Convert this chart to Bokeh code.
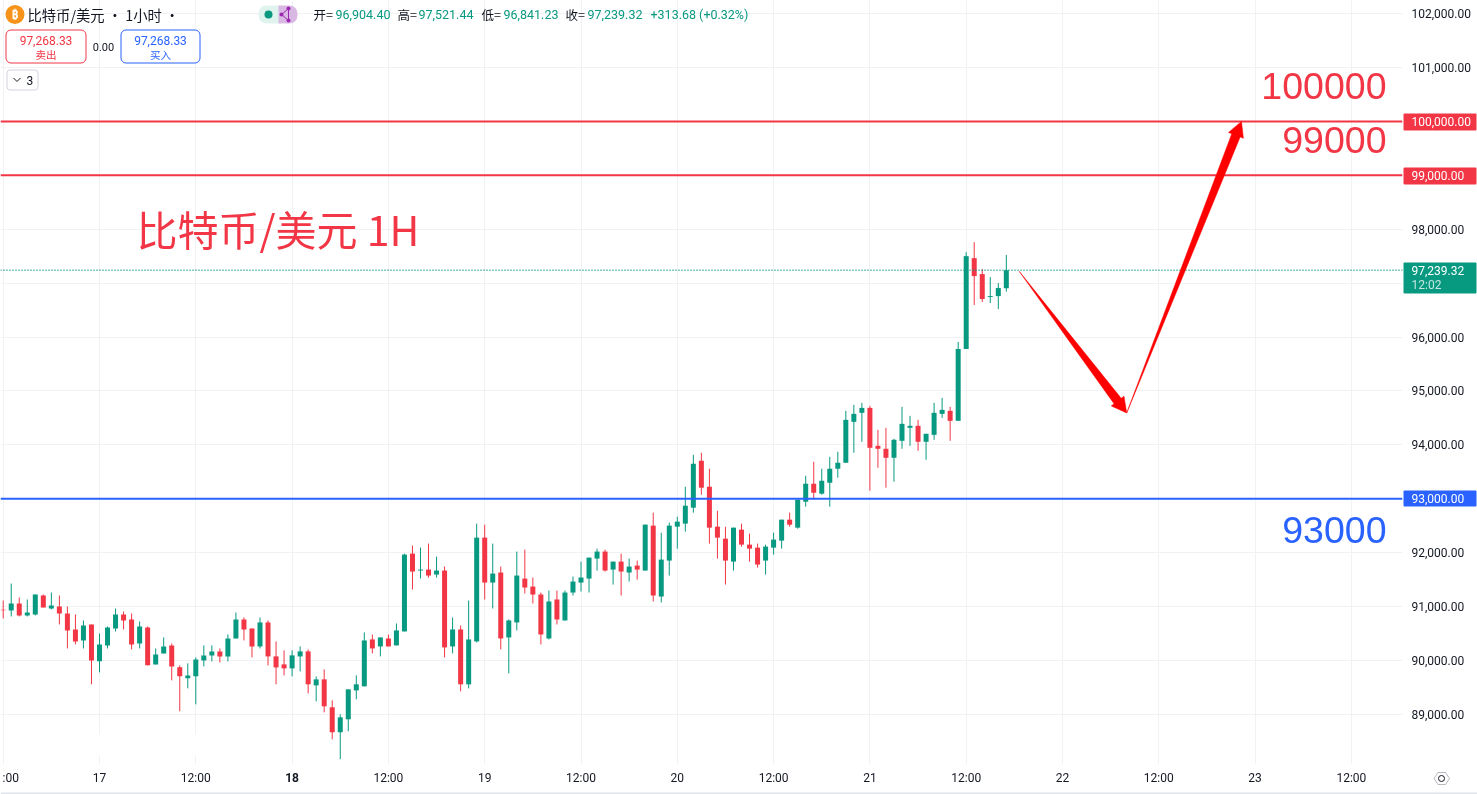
from bokeh.plotting import figure
from bokeh.models import Range1d, FixedTicker, Label, BoxAnnotation, PolyAnnotation, Span, ColumnDataSource
from bokeh.embed import file_html
from bokeh.resources import INLINE
import math

opens = [90939,90926,91056,90834,90852,91204,90963,91000,90871,90574,90371,90667,89982,90278,90593,90852,90760,90315,90611,89926,
         90130,90278,89871,89667,89704,90000,90093,90167,90074,90408,90760,90593,90259,90704,90074,89926,89852,90074,90167,89537,
         89648,89130,88667,88907,89444,89519,90389,90259,90407,90278,90537,91981,91667,91685,91593,91667,90259,90574,89556,90352,
         92278,91444,91630,90426,90704,91518,91370,91222,90407,91130,90741,91259,91444,91518,91889,92019,91685,91833,91630,91759,
         91667,92500,91185,91852,92481,92537,92833,93704,93222,92481,92259,91833,92426,92148,92092,91852,92092,92222,92611,92463,
         92944,93278,93093,93296,93556,93667,94426,94593,94685,93981,93926,93759,94074,94315,94352,94056,94185,94574,94630,94445,
         95778,97463,97167,96741,96759,96904.40]
highs = [91111,91426,91167,91130,91223,91223,91260,91204,91000,90852,90741,90667,90500,90630,90963,90908,90871,90722,90630,90222,
         90426,90315,89908,89945,90056,90278,90278,90222,90482,90889,90797,90593,90796,90741,90352,90185,90185,90259,90204,89704,
         89833,89259,89000,89463,89722,90519,90481,90426,90481,90685,91981,92130,92093,92167,91926,91741,90796,90648,91111,92537,
         92519,92167,91741,90759,92019,92056,91537,91259,91296,91296,91296,91556,91833,91907,92074,92056,91833,91981,91889,91852,
         92519,92741,92370,92556,92667,93222,93815,93852,93556,92778,92481,92463,92537,92352,92167,92148,92370,92611,92741,92981,
         93426,93685,93556,93778,93870,94630,94741,94778,94722,94278,94315,94111,94704,94537,94463,94204,94778,94870,94704,95908,
         97574,97760,97259,97111,97000,97521.44]
lows = [90778,90815,90815,90815,90834,90982,90945,90667,90222,90297,90222,89556,89778,90222,90537,90574,90204,90222,89908,89926,
        90130,89630,89056,89482,89185,89889,89982,89963,89982,90408,90371,90056,90222,89907,89556,89722,89704,89796,89389,89241,
        89037,88537,88167,88685,89278,89519,90130,90074,90259,90278,90537,91315,91519,91537,91537,90056,90130,89426,89481,90333,
        91130,90963,90204,89759,90556,91241,91056,90296,90389,90667,90741,91204,91278,91259,91667,91648,91407,91204,91463,91500,
        91667,91093,91074,91574,92074,92389,92741,93074,92167,91889,91407,91667,92111,91833,91722,91593,91963,92074,92481,92444,
        92852,92981,93074,92852,93389,93667,93852,94056,93148,93574,93204,93315,93926,93981,93889,93722,94093,94500,94074,94445,
        95778,96593,96648,96630,96519,96841.23]
closes = [90930,91056,90834,90889,91223,90982,91019,90871,90556,90352,90648,90000,90297,90611,90852,90741,90297,90630,89908,90111,
          90260,89889,89704,89722,90019,90093,90167,90074,90408,90760,90574,90259,90704,90074,89870,89852,90093,90167,89556,89648,
          89148,88667,88944,89463,89556,90370,90222,90426,90259,90556,91963,91648,91685,91574,91667,90241,90574,89556,90389,92278,
          91444,91611,90407,90741,91574,91352,91222,90481,91093,90759,91259,91463,91537,91907,92019,91667,91833,91648,91741,91685,
          92519,91204,91870,92500,92574,92870,93648,93204,92463,92278,91852,92463,92148,92074,91778,92111,92241,92611,92518,92981,
          93278,93111,93333,93556,93667,94463,94574,94685,93944,93926,93759,94093,94389,94352,94056,94204,94593,94648,94444,95778,
          97500,97130,96704,96759,96908,97239.32]

price_ticks = [89000,90000,91000,92000,93000,94000,95000,96000,97000,98000,99000,100000,101000,102000]
hidden_price_labels = [93000,97000,99000,100000]
time_ticks = [0,12,24,36,48,60,72,84,96,108,120,132,144,156,168]
time_labels = ["","17","12:00","","12:00","19","12:00","20","12:00","21","12:00","22","12:00","23","12:00"]
levels = {"resistance_1": 100000, "resistance_2": 99000, "support": 93000}
last_price = 97239.32
path_hours = [126.6, 140.0, 154.3]
path_prices = [97220, 94590, 100000]

GREEN = "#089981"; RED = "#f23645"; BLUE = "#2962ff"; INK = "#131722"; GRID = "#f1f2f4"
NUM = "Roboto"; CJK = "Noto Sans CJK SC"

def dx(px): return (px - 2.7) / 8.025
def dy(py): return 91000 + (606 - py) / 0.0539
def sx(h): return 2.7 + 8.025 * h
def sy(v): return 606 - (v - 91000) * 0.0539

p = figure(width=1477, height=794, x_range=Range1d(dx(0), dx(1402)), y_range=Range1d(dy(764), dy(0)),
           output_backend="svg", toolbar_location=None, y_axis_location="right",
           min_border_left=0, min_border_top=0, min_border_right=75, min_border_bottom=30,
           outline_line_color=None, border_fill_color="white", background_fill_color="white")
p.styles = {"position": "fixed", "left": "0px", "top": "0px"}

p.yaxis.ticker = FixedTicker(ticks=price_ticks)
p.yaxis.major_label_overrides = {t: ("" if t in hidden_price_labels else f"{t:,.2f}") for t in price_ticks}
p.xaxis.ticker = FixedTicker(ticks=time_ticks)
p.xaxis.major_label_overrides = dict(zip(time_ticks, time_labels))
for ax in (p.xaxis[0], p.yaxis[0]):
    ax.axis_line_color = None
    ax.major_tick_line_color = None
    ax.minor_tick_line_color = None
    ax.major_tick_out = 0
    ax.major_tick_in = 0
    ax.minor_tick_out = 0
    ax.minor_tick_in = 0
    ax.major_label_text_font = NUM
    ax.major_label_text_font_size = "12px"
    ax.major_label_text_color = INK
p.yaxis.major_label_standoff = 9
p.xaxis.major_label_standoff = 6
p.grid.grid_line_color = GRID
p.grid.grid_line_width = 1

# transparent overlay sheet for the page furniture: its units are page pixels
q = figure(width=1477, height=794, x_range=Range1d(0, 1477), y_range=Range1d(794, 0),
           output_backend="svg", toolbar_location=None, x_axis_type=None, y_axis_type=None,
           min_border=0, outline_line_color=None, border_fill_alpha=0, background_fill_alpha=0)
q.grid.visible = False
q.styles = {"position": "fixed", "left": "0px", "top": "0px"}

def box(l, r, t, b, fill=None, line=None, radius=0, width=1):
    a = BoxAnnotation(left=l, right=r, top=t, bottom=b,
                      fill_color=fill if fill else "white", fill_alpha=1 if fill else 0,
                      line_color=line if line else None, line_width=width, line_alpha=1,
                      border_radius=radius, level="annotation")
    q.add_layout(a)
    return a

def label(px, py, text, color=INK, size=12, font=NUM, align="left", style="normal"):
    q.add_layout(Label(x=px, y=py, text=text, text_color=color, text_font=font,
                       text_font_size=f"{size}px", text_align=align, text_baseline="middle",
                       text_font_style=style, level="overlay"))

# patch over the chart's logo corner: grid lines break there
box(20, 285, 733, 755, fill="white")

# candles
hours = list(range(len(opens)))
colors = [GREEN if c >= o else RED for o, c in zip(opens, closes)]
src = ColumnDataSource(dict(x=hours, o=opens, h=highs, l=lows, c=closes, color=colors,
                            top=[max(a, b) for a, b in zip(opens, closes)],
                            bot=[min(a, b) for a, b in zip(opens, closes)]))
p.segment("x", "h", "x", "l", source=src, line_color="color", line_width=1)
p.vbar("x", width=5 / 8.025, top="top", bottom="bot", source=src, fill_color="color", line_color="color", line_width=0)

# horizontal levels
p.add_layout(Span(location=last_price, dimension="width", line_color=GREEN, line_width=1.5, line_dash="1 2"))
for v, c in ((levels["resistance_1"], RED), (levels["resistance_2"], RED), (levels["support"], BLUE)):
    p.add_layout(Span(location=v, dimension="width", line_color=c, line_width=2))

# drawn arrows: tapered shaft from a point, arrow head at the far end
def arrow(h0, v0, h1, v1, shaft=9, wing=16, head=15):
    x0, y0, x1, y1 = sx(h0), sy(v0), sx(h1), sy(v1)
    L = math.hypot(x1 - x0, y1 - y0)
    ux, uy = (x1 - x0) / L, (y1 - y0) / L
    nx, ny = -uy, ux
    bx, by = x1 - ux * head, y1 - uy * head
    pts = [(x0, y0), (bx + nx * shaft / 2, by + ny * shaft / 2), (bx + nx * wing / 2, by + ny * wing / 2),
           (x1, y1), (bx - nx * wing / 2, by - ny * wing / 2), (bx - nx * shaft / 2, by - ny * shaft / 2)]
    p.patch([dx(a) for a, _ in pts], [dy(b) for _, b in pts], fill_color="#ff0000", line_color="#ff0000",
            line_width=0.5, level="overlay")
arrow(path_hours[0], path_prices[0], path_hours[1], path_prices[1])
arrow(path_hours[1], path_prices[1], path_hours[2], path_prices[2])

# big annotations
label(1386, 85, "100000", RED, 37.5, "Liberation Sans", "right")
label(1386, 139, "99000", RED, 37.5, "Liberation Sans", "right")
label(1386, 529, "93000", BLUE, 37.5, "Liberation Sans", "right")
label(136, 227, "比特币/美元 1H", RED, 41, CJK)

# price tags
box(1403, 1476, 113, 130, fill=RED, radius=1)
label(1411, 121, "100,000.00", "white", 12)
box(1403, 1476, 167, 184, fill=RED, radius=1)
label(1411, 175, "99,000.00", "white", 12)
box(1403, 1476, 490, 506, fill=BLUE, radius=1)
label(1411, 498, "93,000.00", "white", 12)
box(1403, 1476, 262, 293, fill=GREEN, radius=1)
label(1411, 270, "97,239.32", "white", 12)
label(1411, 284, "12:02", "#c5e6e0", 12)

# time axis specials
label(2, 777, ":00", INK, 12)
label(sx(36), 777, "18", INK, 12, NUM, "center", "bold")

# settings hexagon
hx = [1433.5, 1437.5, 1445, 1449, 1445, 1437.5]
hy = [778, 772, 772, 778, 784, 784]
q.add_layout(PolyAnnotation(xs=hx, ys=hy, fill_alpha=0, line_color=INK, line_width=1, level="overlay"))
q.scatter([1441], [778], size=6, marker="circle", fill_alpha=0, line_color=INK, line_width=1, level="overlay")

# bottom edge
box(0, 1477, 792, 794, fill="#e0e3eb")

# legend header
q.scatter([14.5], [14], size=19, marker="circle", fill_color="#f7931a", line_color=None, level="glyph")
label(14.5, 14, "₿", "white", 12, "Noto Sans", "center", "bold")
label(27, 14, "比特币/美元 · 1小时 ·", INK, 14.3, CJK)

box(258, 278, 5, 23, fill="#dff3ef", radius=8)
box(277, 297, 5, 23, fill="#d9b8e4", radius=8)
box(272, 279, 5, 23, fill="#dff3ef")
box(278, 283, 5, 23, fill="#d9b8e4")
q.scatter([268], [14], size=8, marker="circle", fill_color=GREEN, line_color=None, level="overlay")
q.line([288, 281, 288, 288], [8, 14, 20, 8], line_color="#9c27b0", line_width=1, level="overlay")
q.scatter([288, 281, 288], [8, 14, 20], size=4, marker="circle", fill_color="#9c27b0", line_color=None, level="overlay")

label(313, 14, "开=", INK, 12.5, CJK)
label(335, 14, "96,904.40", GREEN, 12.5)
label(397, 14, "高=", INK, 12.5, CJK)
label(418, 14, "97,521.44", GREEN, 12.5)
label(481, 14, "低=", INK, 12.5, CJK)
label(503, 14, "96,841.23", GREEN, 12.5)
label(565, 14, "收=", INK, 12.5, CJK)
label(587, 14, "97,239.32", GREEN, 12.5)
label(650, 14, "+313.68 (+0.32%)", GREEN, 12.5)

box(5.5, 85.5, 29.5, 62.5, fill="white", line=RED, radius=5)
label(45.5, 39.5, "97,268.33", RED, 12, NUM, "center")
label(45.5, 54, "卖出", RED, 10.5, CJK, "center")
label(103, 46, "0.00", INK, 11, NUM, "center")
box(120.5, 199.5, 29.5, 62.5, fill="white", line=BLUE, radius=5)
label(160, 39.5, "97,268.33", BLUE, 12, NUM, "center")
label(160, 54, "买入", BLUE, 10.5, CJK, "center")

box(6.5, 37.5, 69.5, 89.5, fill="white", line="#d1d4dc", radius=3)
q.line([13, 16.5, 20], [77.5, 81, 77.5], line_color=INK, line_width=1, level="overlay")
label(26, 80, "3", INK, 12)

open("out.html", "w").write(file_html([p, q], INLINE))
